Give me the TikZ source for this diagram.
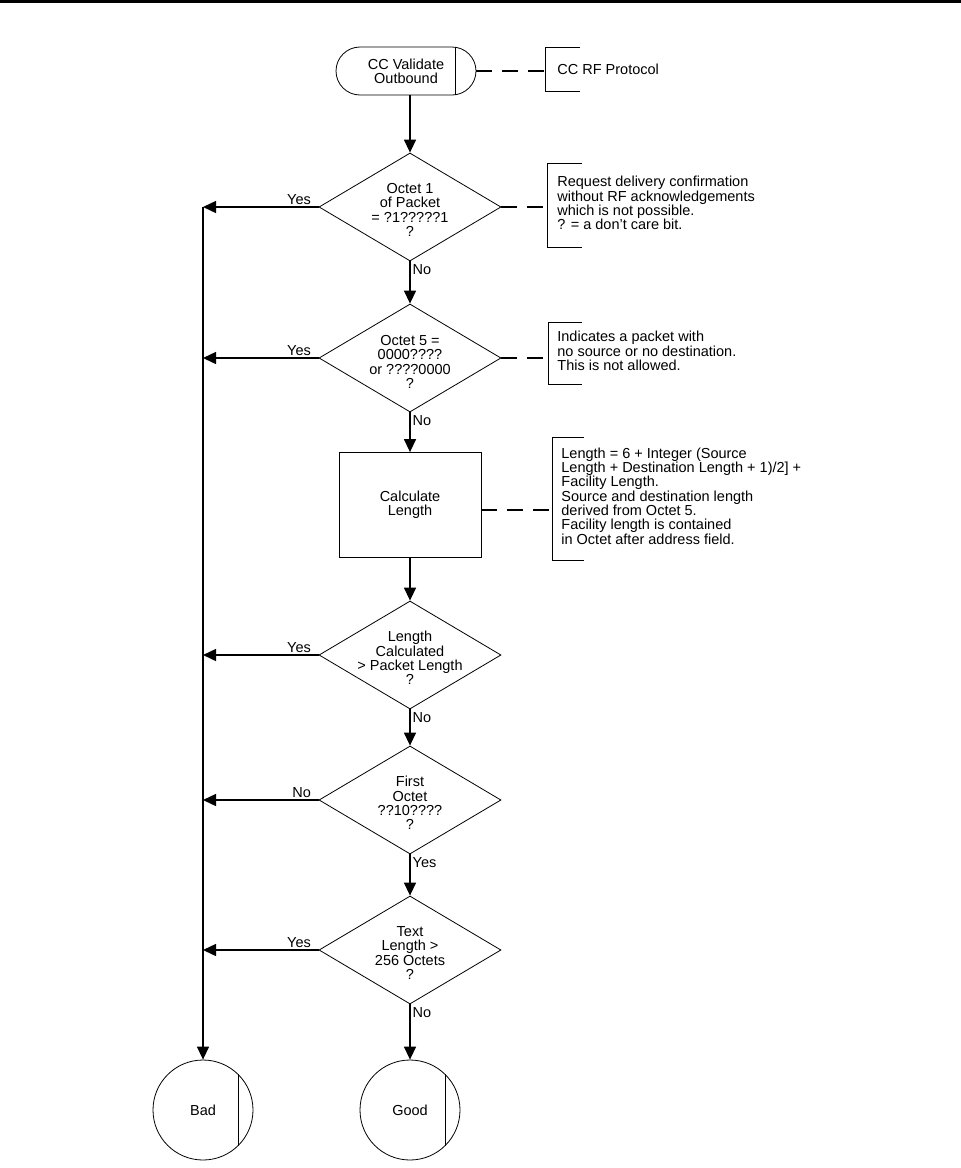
\documentclass[tikz,border=0pt]{standalone}
\usepackage{fontspec}
\setmainfont{Liberation Sans}
\usetikzlibrary{shapes.geometric,arrows.meta}
\newcommand\chartfont{\fontsize{14.5}{14.3}\selectfont}

\begin{document}
\begin{tikzpicture}[
        x=1pt, y=-1pt,
        every node/.style={font=\chartfont},
        every path/.append style={line width=0.8pt},
        flow/.style={line width=1.4pt,-{Triangle[length=13pt,width=12pt]}},
        link/.style={line width=1.3pt,dash pattern=on 16pt off 10pt},
        terminal/.style={draw,rounded corners=24pt,minimum width=140pt,minimum height=48pt,align=center},
        decision/.style={draw,diamond,minimum width=182pt,minimum height=108pt,inner sep=0pt},
        process/.style={draw,minimum width=142pt,minimum height=105pt,align=center},
        endpoint/.style={draw,circle,minimum size=100pt,inner sep=0pt},
        query/.style={align=center,inner sep=0pt},
        note/.style={anchor=west,align=left,inner sep=0pt},
        answer/.style={inner sep=2pt,pos=0}
    ]
        \useasboundingbox (0,0) rectangle (961,1168);
        \draw [line width=2.5pt] (0,1.25) -- (961,1.25);

        % main column
        \node [terminal] (start) at (406,71) {CC Validate\\Outbound};
        \draw (start.center) ++(49,-23.7) -- ++(0,47.4);

        \node [decision] (d1) at (410,207) {};
        \node [query] (q1) at (410,210) {Octet 1\\of Packet\\= ?1?????1\\?};

        \node [decision] (d2) at (410,358) {};
        \node [query] (q2) at (410,362) {Octet 5 =\\0000????\\or ????0000\\?};

        \node [process] (box) at (410,505) {Calculate\\Length};

        \node [decision] (d3) at (410,655) {};
        \node [query] (q3) at (410,658) {Length\\Calculated\\> Packet Length\\?};

        \node [decision] (d4) at (410,800) {};
        \node [query] (q4) at (410,803) {First\\Octet\\??10????\\?};

        \node [decision] (d5) at (410,950) {};
        \node [query] (q5) at (410,953) {Text\\Length >\\256 Octets\\?};

        \node [endpoint] (bad)  at (203,1110) {Bad};
        \node [endpoint] (good) at (410,1110) {Good};
        \draw (bad.center) ++(35,-35.7) -- ++(0,71.4);
        \draw (good.center) ++(35,-35.7) -- ++(0,71.4);

        \draw [flow] (start.south -| d1) -- (d1);
        \draw [flow] (d1) -- node[answer,below right]{No} (d2);
        \draw [flow] (d2) -- node[answer,below right]{No} (box);
        \draw [flow] (box) -- (d3);
        \draw [flow] (d3) -- node[answer,below right]{No} (d4);
        \draw [flow] (d4) -- node[answer,below right]{Yes} (d5);
        \draw [flow] (d5) -- node[answer,below right]{No} (good);

        % rejections
        \draw [flow] (d1.west -| bad) -- (bad);
        \draw [flow] (d1.west) -- node[answer,above left,xshift=-5pt]{Yes} (d1.west -| bad);
        \draw [flow] (d2.west) -- node[answer,above left,xshift=-5pt]{Yes} (d2.west -| bad);
        \draw [flow] (d3.west) -- node[answer,above left,xshift=-5pt]{Yes} (d3.west -| bad);
        \draw [flow] (d4.west) -- node[answer,above left,xshift=-5pt]{No} (d4.west -| bad);
        \draw [flow] (d5.west) -- node[answer,above left,xshift=-5pt]{Yes} (d5.west -| bad);

        % notes
        \coordinate (b1) at (545,71);
        \draw [link] (start.east) -- (b1);
        \draw (580,47) -| (545,91) -- (580,91);
        \node [note] (n1) at (557,69) {CC RF Protocol};

        \coordinate (b2) at (547,207);
        \draw [link] (d1.east) -- (b2);
        \draw (582,163) -| (547,247) -- (582,247);
        \node [note] (n2) at (557,203) {Request delivery confirmation\\without RF acknowledgements\\which is not possible.\\? = a don't care bit.};

        \coordinate (b3) at (548,358);
        \draw [link] (d2.east) -- (b3);
        \draw (582,322) -| (548,384) -- (582,384);
        \node [note] (n3) at (557,351) {Indicates a packet with\\no source or no destination.\\This is not allowed.};

        \coordinate (b4) at (552,510);
        \draw [link] (box.east |- b4) -- (b4);
        \draw (584,437) -| (552,560) -- (584,560);
        \node [note] (n4) at (561,496) {Length = 6 + Integer (Source\\Length + Destination Length + 1)/2] +\\Facility Length.\\Source and destination length\\derived from Octet 5.\\Facility length is contained\\in Octet after address field.};
    \end{tikzpicture}
\end{document}
